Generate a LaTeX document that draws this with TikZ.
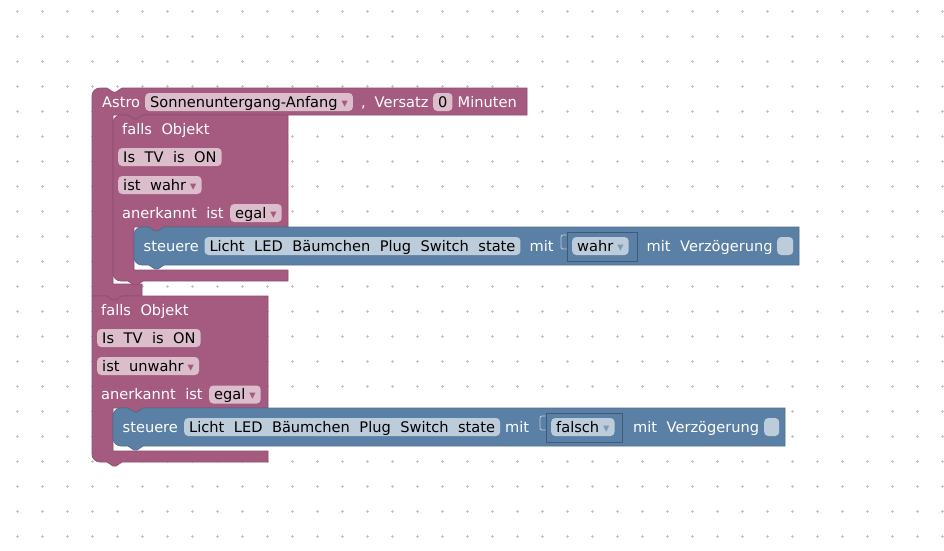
\documentclass[tikz,border=0pt]{standalone}
\usepackage{fontspec}
\setmainfont{DejaVu Sans}
\definecolor{blockpink}{HTML}{A55B80}
\definecolor{pinkedge}{HTML}{8E4E6E}
\definecolor{fieldpink}{HTML}{DBBDCC}
\definecolor{blockblue}{HTML}{5B80A5}
\definecolor{blueedge}{HTML}{4E6E8E}
\definecolor{fieldblue}{HTML}{BDCCDB}
\definecolor{sockedge}{HTML}{3E5A77}
\definecolor{arrowblue}{HTML}{7F9AB5}
\definecolor{griddot}{HTML}{C4C4C4}
\newcommand{\blockfont}{\fontsize{14.6}{17}\selectfont}
\newcommand{\gp}{\hspace{9.5pt}}
\newcommand{\dd}[1]{\hspace{4pt}\textcolor{#1}{\fontsize{12.5}{12.5}\selectfont ▾}}

\begin{document}
\begin{tikzpicture}[x=1pt,y=-1pt]
	\tikzset{lbl/.style={anchor=west, inner sep=0pt, text=white, font=\blockfont, text height=12.6pt, text depth=2pt}};
	\tikzset{pfield/.style={anchor=west, fill=fieldpink, rounded corners=4pt, inner xsep=5pt, inner ysep=0pt, minimum height=18pt, text=black, font=\blockfont, text height=12.6pt, text depth=2pt}};
	\tikzset{bfield/.style={pfield, fill=fieldblue}};
	\tikzset{pinkblk/.style={fill=blockpink, draw=pinkedge, line width=0.7pt}};
	\tikzset{blueblk/.style={fill=blockblue, draw=blueedge, line width=0.7pt}};
	\tikzset{sockbox/.style={draw=sockedge, line width=0.8pt, inner sep=0pt, minimum height=29pt}};
	\tikzset{emptybox/.style={fill=fieldblue, rounded corners=4pt, inner sep=0pt, minimum height=18pt, anchor=west}};

	\useasboundingbox[fill=white] (0,0) rectangle (944,550);

	% grid
	\foreach \i in {0,...,37} {
		\foreach \j in {0,...,21} {
			\draw[griddot, line width=1pt] (17+25*\i-1.5, 11+25*\j) -- (17+25*\i+1.5, 11+25*\j)
				(17+25*\i, 11+25*\j-1.5) -- (17+25*\i, 11+25*\j+1.5);
		}
	}

	% astro block
	\path[pinkblk] (92,96) arc[start angle=180, end angle=270, radius=8] -- (107,88) -- (113,92) -- (116,92) -- (122,88)
		-- (527,88) -- (527,115) -- (143,115) -- (137,119) -- (134,119) -- (128,115) -- (113,115)
		-- (113,284) -- (142,284) -- (142,296) -- (122,296) -- (116,300) -- (113,300) -- (107,296) -- (92,296) -- cycle;

	% first falls block
	\path[pinkblk] (113,123) arc[start angle=180, end angle=270, radius=8] -- (128,115) -- (134,119) -- (137,119) -- (143,115)
		-- (288,115) -- (288,227) -- (164,227) -- (158,231) -- (155,231) -- (149,227) -- (134,227)
		-- (134,270) -- (288,270) -- (288,281) -- (143,281) -- (137,285) -- (134,285) -- (128,281)
		-- (121,281) arc[start angle=90, end angle=180, radius=8] -- cycle;

	% first steuere block
	\path[blueblk] (134,235) arc[start angle=180, end angle=270, radius=8] -- (149,227) -- (155,231) -- (158,231) -- (164,227)
		-- (799,227) -- (799,265) -- (164,265) -- (158,269) -- (155,269) -- (149,265)
		-- (142,265) arc[start angle=90, end angle=180, radius=8] -- cycle;

	% second falls block
	\path[pinkblk] (92,296) -- (107,296) -- (113,300) -- (116,300) -- (122,296)
		-- (268,296) -- (268,408) -- (143,408) -- (137,412) -- (134,412) -- (128,408) -- (113,408)
		-- (113,451) -- (268,451) -- (268,462) -- (122,462) -- (116,466) -- (113,466) -- (107,462)
		-- (100,462) arc[start angle=90, end angle=180, radius=8] -- cycle;

	% second steuere block
	\path[blueblk] (113,416) arc[start angle=180, end angle=270, radius=8] -- (128,408) -- (134,412) -- (137,412) -- (143,408)
		-- (785,408) -- (785,446) -- (143,446) -- (137,450) -- (134,450) -- (128,446)
		-- (121,446) arc[start angle=90, end angle=180, radius=8] -- cycle;

	% header row
	\node[lbl] (astro) at (102,102) {Astro};
	\node[pfield] (sonne) at (145,102) {Sonnenuntergang-Anfang\dd{blockpink}};
	\node[lbl] (komma) at (361,102) {,};
	\node[lbl] (versatz) at (374.5,102) {Versatz};
	\node[pfield] (null) at (433,102) {0};
	\node[lbl] (minuten) at (457.5,102) {Minuten};

	% first falls
	\node[lbl] (fallsa) at (122,129) {falls\gp Objekt};
	\node[pfield] (tva) at (118,157) {Is\gp TV\gp is\gp ON};
	\node[pfield] (wahra) at (118,185) {ist\gp wahr\dd{blockpink}};
	\node[lbl] (anerka) at (122,213) {anerkannt\gp ist};
	\node[pfield] (egala) at (230,213) {egal\dd{blockpink}};

	\node[lbl] (steuera) at (143.5,246) {steuere};
	\node[bfield] (lichta) at (204.3,246) {Licht\gp LED\gp Bäumchen\gp Plug\gp Switch\gp state};
	\node[lbl] (mita) at (529.5,246) {mit};
	\node[sockbox, minimum width=70pt] (socka) at (602,246.5) {};
	\draw[fieldblue, line width=0.8pt, rounded corners=2pt] (socka.west |- 0,235) -- (561,235) -- (561,249) -- (socka.west |- 0,249);
	\node[bfield] (wahrb) at (572,246) {wahr\dd{arrowblue}};
	\node[lbl] (verza) at (646.5,246) {mit\gp Verzögerung};
	\node[emptybox, minimum width=16pt] (boxa) at (777,246) {};

	% second falls
	\node[lbl] (fallsb) at (101,310) {falls\gp Objekt};
	\node[pfield] (tvb) at (97,338) {Is\gp TV\gp is\gp ON};
	\node[pfield] (unwahrb) at (97,366) {ist\gp unwahr\dd{blockpink}};
	\node[lbl] (anerkb) at (101,394.5) {anerkannt\gp ist};
	\node[pfield] (egalb) at (209,394.5) {egal\dd{blockpink}};

	\node[lbl] (steuerb) at (122.5,427) {steuere};
	\node[bfield] (lichtb) at (184,427) {Licht\gp LED\gp Bäumchen\gp Plug\gp Switch\gp state};
	\node[lbl] (mitb) at (505,427) {mit};
	\node[sockbox, minimum width=76pt] (sockb) at (584,427.5) {};
	\draw[fieldblue, line width=0.8pt, rounded corners=2pt] (sockb.west |- 0,416) -- (540,416) -- (540,430) -- (sockb.west |- 0,430);
	\node[bfield] (falschb) at (551,427) {falsch\dd{arrowblue}};
	\node[lbl] (verzb) at (633,427) {mit\gp Verzögerung};
	\node[emptybox, minimum width=15pt] (boxb) at (764,427) {};
\end{tikzpicture}
\end{document}
